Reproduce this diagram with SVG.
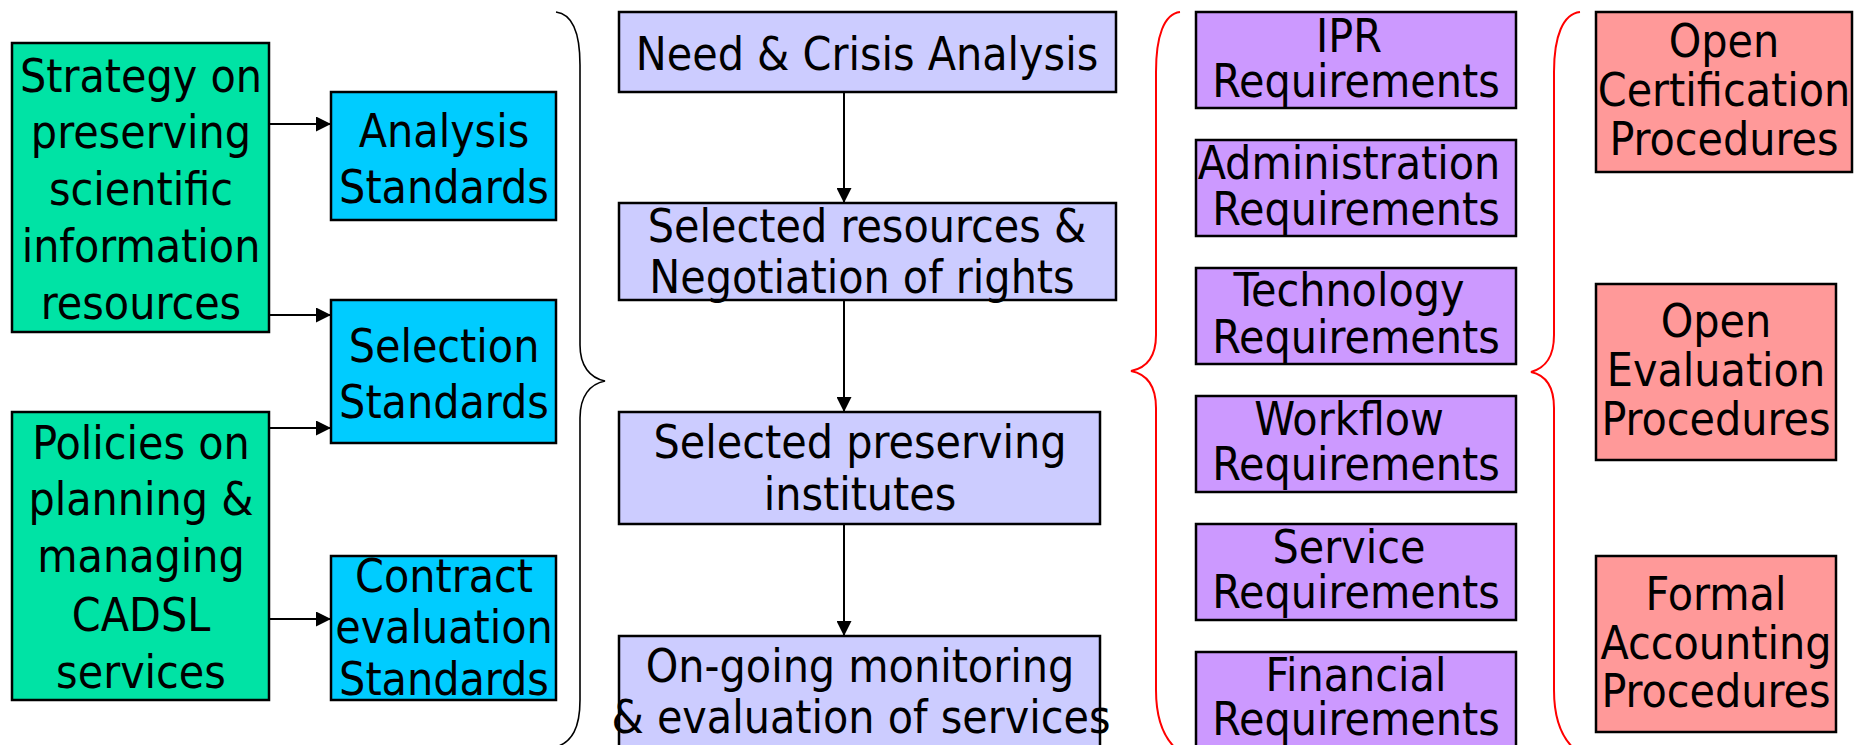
<svg xmlns="http://www.w3.org/2000/svg" width="1866" height="745" viewBox="0 0 1866 745">
<style>
  .node rect { stroke: #000; stroke-width: 2.5; }
  .green { fill: #00E3A5; }
  .blue { fill: #00CCFF; }
  .lav { fill: #CCCCFF; }
  .purple { fill: #CC99FF; }
  .pink { fill: #FF9999; }
  text { font-family: "DejaVu Sans Condensed", "DejaVu Sans", "Liberation Sans", sans-serif; font-stretch: condensed; font-size: 46px; fill: #000; text-anchor: middle; }
  .conn line { stroke: #000; stroke-width: 2; }
  .brace { fill: none; stroke: #000; stroke-width: 1.6; }
  .rbrace { fill: none; stroke: #FF0000; stroke-width: 2; }
</style>
<defs>
  <marker id="ah" markerWidth="15" markerHeight="15" refX="15" refY="7.5" orient="auto" markerUnits="userSpaceOnUse">
    <path d="M0,0 L15,7.5 L0,15 z" fill="#000"/>
  </marker>
</defs>
<rect x="0" y="0" width="1866" height="745" fill="#fff"/>

<g id="strategy" class="node">
  <rect class="green" x="12" y="43" width="257" height="289"/>
  <text x="141" y="92">Strategy on</text>
  <text x="141" y="148">preserving</text>
  <text x="141" y="205">scientific</text>
  <text x="141" y="262">information</text>
  <text x="141" y="319">resources</text>
</g>
<g id="policies" class="node">
  <rect class="green" x="12" y="412" width="257" height="288"/>
  <text x="141" y="459">Policies on</text>
  <text x="141" y="515">planning &amp;</text>
  <text x="141" y="572">managing</text>
  <text x="141" y="631">CADSL</text>
  <text x="141" y="688">services</text>
</g>
<g id="analysis" class="node">
  <rect class="blue" x="331" y="92" width="225" height="128"/>
  <text x="444" y="147">Analysis</text>
  <text x="444" y="203">Standards</text>
</g>
<g id="selection" class="node">
  <rect class="blue" x="331" y="300" width="225" height="143"/>
  <text x="444" y="362">Selection</text>
  <text x="444" y="418">Standards</text>
</g>
<g id="contract" class="node">
  <rect class="blue" x="331" y="556" width="225" height="144"/>
  <text x="444" y="592">Contract</text>
  <text x="444" y="643">evaluation</text>
  <text x="444" y="695">Standards</text>
</g>

<g id="need" class="node">
  <rect class="lav" x="619" y="12" width="497" height="80"/>
  <text x="867" y="70">Need &amp; Crisis Analysis</text>
</g>
<g id="selected-resources" class="node">
  <rect class="lav" x="619" y="203" width="497" height="97"/>
  <text x="867" y="242">Selected resources &amp;</text>
  <text x="862" y="293">Negotiation of rights</text>
</g>
<g id="selected-institutes" class="node">
  <rect class="lav" x="619" y="412" width="481" height="112"/>
  <text x="860" y="458">Selected preserving</text>
  <text x="860" y="510">institutes</text>
</g>
<g id="monitoring" class="node">
  <rect class="lav" x="619" y="636" width="481" height="130"/>
  <text x="860" y="682">On-going monitoring</text>
  <text x="861" y="733">&amp; evaluation of services</text>
</g>

<g id="ipr" class="node">
  <rect class="purple" x="1196" y="12" width="320" height="96"/>
  <text x="1349" y="52">IPR</text>
  <text x="1356" y="97">Requirements</text>
</g>
<g id="administration" class="node">
  <rect class="purple" x="1196" y="140" width="320" height="96"/>
  <text x="1349" y="179">Administration</text>
  <text x="1356" y="225">Requirements</text>
</g>
<g id="technology" class="node">
  <rect class="purple" x="1196" y="268" width="320" height="96"/>
  <text x="1349" y="306">Technology</text>
  <text x="1356" y="353">Requirements</text>
</g>
<g id="workflow" class="node">
  <rect class="purple" x="1196" y="396" width="320" height="96"/>
  <text x="1349" y="435">Workflow</text>
  <text x="1356" y="480">Requirements</text>
</g>
<g id="service" class="node">
  <rect class="purple" x="1196" y="524" width="320" height="96"/>
  <text x="1349" y="563">Service</text>
  <text x="1356" y="608">Requirements</text>
</g>
<g id="financial" class="node">
  <rect class="purple" x="1196" y="652" width="320" height="110"/>
  <text x="1356" y="691">Financial</text>
  <text x="1356" y="735">Requirements</text>
</g>

<g id="certification" class="node">
  <rect class="pink" x="1596" y="12" width="256" height="160"/>
  <text x="1724" y="57">Open</text>
  <text x="1724" y="106">Certification</text>
  <text x="1724" y="155">Procedures</text>
</g>
<g id="evaluation" class="node">
  <rect class="pink" x="1596" y="284" width="240" height="176"/>
  <text x="1716" y="337">Open</text>
  <text x="1716" y="386">Evaluation</text>
  <text x="1716" y="435">Procedures</text>
</g>
<g id="accounting" class="node">
  <rect class="pink" x="1596" y="556" width="240" height="176"/>
  <text x="1716" y="610">Formal</text>
  <text x="1716" y="659">Accounting</text>
  <text x="1716" y="707">Procedures</text>
</g>

<g id="connectors" class="conn">
  <line x1="269" y1="124" x2="331" y2="124" marker-end="url(#ah)"/>
  <line x1="269" y1="315" x2="331" y2="315" marker-end="url(#ah)"/>
  <line x1="269" y1="428" x2="331" y2="428" marker-end="url(#ah)"/>
  <line x1="269" y1="619" x2="331" y2="619" marker-end="url(#ah)"/>
  <line x1="844" y1="92" x2="844" y2="203" marker-end="url(#ah)"/>
  <line x1="844" y1="300" x2="844" y2="412" marker-end="url(#ah)"/>
  <line x1="844" y1="524" x2="844" y2="636" marker-end="url(#ah)"/>
</g>

<g id="braces">
  <path class="brace" d="M556,12 C572,14 580,32 580,65 L580,345 C580,366 590,378 605,381 C590,384 580,396 580,418 L580,700 C580,728 572,742 556,747"/>
  <path class="rbrace" d="M1180,12 C1164,14 1156,36 1156,72 L1156,335 C1156,358 1146,368 1131,371 C1146,374 1156,384 1156,408 L1156,690 C1156,720 1164,740 1180,752"/>
  <path class="rbrace" d="M1580,12 C1563,14 1554,36 1554,72 L1554,335 C1554,358 1545,368 1531,372 C1545,375 1554,385 1554,408 L1554,690 C1554,720 1562,740 1578,752"/>
</g>
</svg>
